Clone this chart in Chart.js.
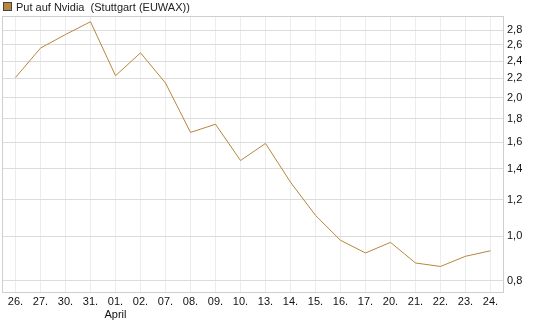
<!DOCTYPE html>
<html>
<head>
<meta charset="utf-8">
<script src="https://cdn.jsdelivr.net/npm/chart.js"></script>
<style>
    html, body { margin: 0; padding: 0; background: #fff; }
    #wrap { position: relative; width: 545px; height: 327px; }
    #legend {
        position: absolute; left: 3px; top: 1px;
        font: 11px "Liberation Sans", Arial, sans-serif; color: #222;
        white-space: pre;
    }
    #legend span.box {
        display: inline-block; width: 7px; height: 7px;
        background: #b8863e; border: 1px solid #444;
        margin-right: 4px; vertical-align: -0px;
    }
</style>
</head>
<body>
<div id="wrap">
    <canvas id="chart" width="545" height="327"></canvas>
    <div id="legend"><span class="box"></span>Put auf Nvidia  (Stuttgart (EUWAX))</div>
</div>
<script>
const dayLabels = ["26.", "27.", "30.", "31.", ["01.", "April"], "02.", "07.", "08.", "09.", "10.",
    "13.", "14.", "15.", "16.", "17.", "20.", "21.", "22.", "23.", "24."];
const prices = [2.21, 2.56, 2.74, 2.92, 2.23, 2.50, 2.15, 1.68, 1.75, 1.46,
    1.59, 1.31, 1.11, 0.98, 0.92, 0.97, 0.875, 0.86, 0.905, 0.93];
const yTicks = [0.8, 1.0, 1.2, 1.4, 1.6, 1.8, 2.0, 2.2, 2.4, 2.6, 2.8];

const frame = {
    id: "frame",
    afterDraw(chart) {
        const a = chart.chartArea;
        const ctx = chart.ctx;
        ctx.save();
        ctx.strokeStyle = "#cfcfcf";
        ctx.lineWidth = 1;
        ctx.strokeRect(a.left - 0.5, a.top - 0.5, a.right - a.left + 1, a.bottom - a.top + 1);
        ctx.restore();
    }
};

new Chart(document.getElementById("chart"), {
    type: "line",
    data: {
        labels: dayLabels,
        datasets: [{
            data: prices,
            borderColor: "#b8863e",
            borderWidth: 1,
            pointRadius: 0,
            tension: 0,
            fill: false
        }]
    },
    options: {
        responsive: false,
        animation: false,
        layout: { padding: { left: 3, top: 17, right: 0, bottom: 0 } },
        plugins: { legend: { display: false }, tooltip: { enabled: false } },
        scales: {
            x: {
                offset: true,
                grid: { color: "#ececec", offset: false, drawTicks: false },
                border: { display: false },
                ticks: {
                    autoSkip: false, maxRotation: 0, padding: 3, color: "#111",
                    font: { family: "Liberation Sans", size: 11 }
                },
                afterFit(scale) { scale.height = 35; }
            },
            y: {
                type: "logarithmic",
                position: "right",
                min: 0.757,
                max: 2.99,
                grid: { color: "#dcdcdc", drawTicks: false },
                border: { display: false },
                afterBuildTicks(scale) { scale.ticks = yTicks.map(v => ({ value: v })); },
                ticks: {
                    padding: 4, color: "#111",
                    font: { family: "Liberation Sans", size: 11 },
                    callback: (v) => Number(v).toFixed(1).replace(".", ",")
                },
                afterFit(scale) { scale.width = 42; }
            }
        }
    },
    plugins: [frame]
});
</script>
</body>
</html>
